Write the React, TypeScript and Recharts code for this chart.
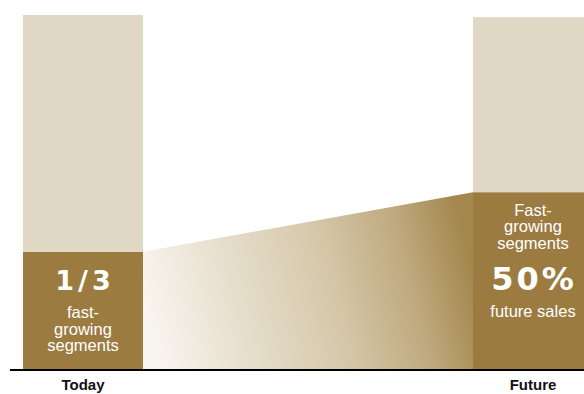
import { ComposedChart, Bar, Area, XAxis, YAxis } from "recharts";

const categories = ["Today", "Future"];
const fastShare = [33.3, 50.1];
const otherShare = [66.7, 49.3];

const todayBig = "1/3";
const todayLines = ["fast-", "growing", "segments"];
const futureTop = ["Fast-", "growing", "segments"];
const futureBig = "50%";
const futureBottom = ["future sales"];

const BEIGE = "#e0d8c5";
const BROWN = "#9b7b3f";

const data = categories.map((name, i) => ({
  name,
  fast: fastShare[i],
  other: otherShare[i],
}));

// bars sit in 450px bands; connector runs from edge to edge of the two bars
const BAR = 120;
const BAND = 450;
const half = BAR / 2 / BAND;
const bridge = [
  { pos: 0.5 + half, fast: fastShare[0] },
  { pos: 1.5 - half, fast: fastShare[1] },
];

const small = { fontFamily: "'Liberation Sans', Arial, sans-serif", fontSize: 16.5, fill: "#fff" };
const big = { fontFamily: "'DejaVu Sans', sans-serif", fontWeight: 700, fill: "#fff" };

function FastBar(props: any) {
  const { x, y, width, height, index } = props;
  const cx = x + width / 2;
  if (index === 0) {
    return (
      <g>
        <rect x={x} y={y} width={width} height={height} fill={BROWN} />
        <text x={cx + 2} y={y + 38} textAnchor="middle" style={{ ...big, fontSize: 27, letterSpacing: 4 }}>
          {todayBig}
        </text>
        {todayLines.map((t, i) => (
          <text key={t} x={cx} y={y + 66 + i * 16.8} textAnchor="middle" style={small}>{t}</text>
        ))}
      </g>
    );
  }
  return (
    <g>
      <rect x={x} y={y} width={width} height={height} fill={BROWN} />
      {futureTop.map((t, i) => (
        <text key={t} x={cx} y={y + 24 + i * 16.3} textAnchor="middle" style={small}>{t}</text>
      ))}
      <text x={cx + 1} y={y + 98} textAnchor="middle" style={{ ...big, fontSize: 32, letterSpacing: 3 }}>
        {futureBig}
      </text>
      {futureBottom.map((t, i) => (
        <text key={t} x={cx} y={y + 125 + i * 16} textAnchor="middle" style={small}>{t}</text>
      ))}
    </g>
  );
}

export default function App() {
  return (
    <div style={{ position: "absolute", left: 0, top: 0, width: 584, height: 394, overflow: "hidden", background: "#fff" }}>
      <div style={{ position: "absolute", left: 10, top: 0, width: 574, height: 394, overflow: "hidden" }}>
        <div style={{ position: "absolute", left: -152, top: 0 }}>
          <ComposedChart width={900} height={394} data={data} margin={{ top: 15, right: 0, bottom: 0, left: 0 }}>
            <defs>
              <linearGradient id="bridgeFill" x1="0" y1="0.58" x2="1" y2="0.45">
                <stop offset="0%" stopColor="#f8f5ef" />
                <stop offset="25%" stopColor="#e8e0cf" />
                <stop offset="55%" stopColor="#d6c9ab" />
                <stop offset="80%" stopColor="#c0aa80" />
                <stop offset="100%" stopColor="#a3874d" />
              </linearGradient>
            </defs>
            <XAxis
              xAxisId="cat" dataKey="name" type="category" height={24}
              axisLine={{ stroke: "#000", strokeWidth: 2 }} tickLine={false} tickMargin={3}
              tick={{ fill: "#111", fontSize: 15, fontWeight: 700, fontFamily: "'Liberation Sans', Arial, sans-serif" }}
            />
            <XAxis xAxisId="num" dataKey="pos" type="number" domain={[0, 2]} hide allowDataOverflow />
            <YAxis type="number" domain={[0, 100]} hide allowDataOverflow />
            <Area
              xAxisId="num" data={bridge} dataKey="fast" type="linear"
              stroke="none" fill="url(#bridgeFill)" fillOpacity={1} baseValue={0}
              isAnimationActive={false} dot={false} activeDot={false}
            />
            <Bar xAxisId="cat" dataKey="fast" stackId="s" barSize={BAR} fill={BROWN} shape={FastBar} isAnimationActive={false} />
            <Bar xAxisId="cat" dataKey="other" stackId="s" barSize={BAR} fill={BEIGE} isAnimationActive={false} />
          </ComposedChart>
        </div>
      </div>
    </div>
  );
}
